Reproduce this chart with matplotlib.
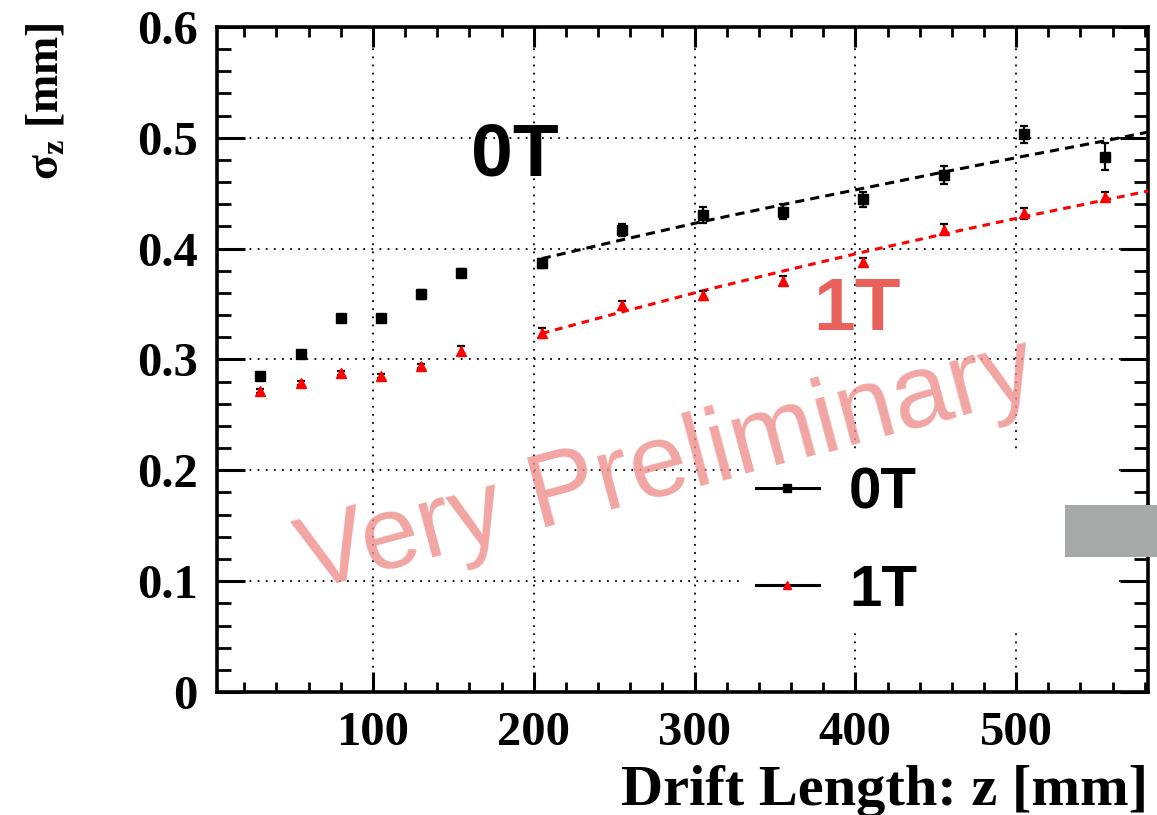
import matplotlib
matplotlib.use("Agg")
import matplotlib.pyplot as plt
from matplotlib.lines import Line2D
from matplotlib.patches import Rectangle
from matplotlib.ticker import MultipleLocator

# ---------------- data ----------------
z = [30, 55, 80, 105, 130, 155, 205, 255, 305, 355, 405, 455, 505, 555]
sigma_0T = [0.285, 0.305, 0.3375, 0.3375, 0.359, 0.378, 0.387, 0.417, 0.4305,
            0.4335, 0.4445, 0.4663, 0.5033, 0.4831]
err_0T = [0.003, 0.003, 0.003, 0.003, 0.004, 0.004, 0.004, 0.0057, 0.007,
          0.007, 0.0068, 0.008, 0.0077, 0.012]
sigma_1T = [0.2717, 0.279, 0.288, 0.285, 0.294, 0.3078, 0.324, 0.349, 0.358,
            0.371, 0.388, 0.417, 0.432, 0.447]
err_1T = [0.002, 0.002, 0.002, 0.002, 0.002, 0.004, 0.004, 0.004, 0.004,
          0.004, 0.004, 0.005, 0.005, 0.004]

# fit curves
fit_z = [205, 255, 305, 355, 405, 455, 505, 555, 583]
fit_0T = [0.391, 0.408, 0.4245, 0.4398, 0.4545, 0.4692, 0.4835, 0.4972, 0.5055]
fit_1T = [0.3235, 0.343, 0.362, 0.3798, 0.397, 0.4132, 0.4289, 0.4438, 0.4523]

x_ticks = [100, 200, 300, 400, 500]
y_ticks = [0, 0.1, 0.2, 0.3, 0.4, 0.5, 0.6]
legend_labels = ["0T", "1T"]

# ---------------- figure ----------------
W, H = 1157, 815
fig = plt.figure(figsize=(W / 100, H / 100), dpi=100)
L, R, T, B = 217, 1148, 27, 692
ax = fig.add_axes([L / W, 1 - B / H, (R - L) / W, (B - T) / H])

serif = ["Liberation Serif", "DejaVu Serif"]
plt.rcParams["mathtext.fontset"] = "custom"
plt.rcParams["mathtext.rm"] = "Liberation Serif"
plt.rcParams["mathtext.bf"] = "Liberation Serif:bold"
plt.rcParams["mathtext.it"] = "Liberation Serif:italic"

ax.grid(True, which="major", color="black", linestyle=(0, (1, 3.5)), linewidth=1.3)
ax.set_axisbelow(True)

ax.plot(fit_z, fit_0T, color="black", linestyle=(0, (3, 2)), linewidth=2.2, zorder=3)
ax.plot(fit_z, fit_1T, color="red", linestyle=(0, (2.5, 2)), linewidth=2.2, zorder=3)

ax.errorbar(z, sigma_0T, yerr=err_0T, fmt="s", color="black", ecolor="black",
            markersize=7, elinewidth=1.6, capsize=3, capthick=1.6, zorder=4)
ax.errorbar(z, sigma_1T, yerr=err_1T, fmt="^", color="red", ecolor="black",
            markersize=6.5, elinewidth=1.6, capsize=3, capthick=1.6, zorder=4)

ax.set_xlim(3, 582)
ax.set_ylim(0, 0.6)
ax.set_xticks(x_ticks)
ax.set_xticklabels([str(v) for v in x_ticks])
ax.set_yticks(y_ticks)
ax.set_yticklabels(["0"] + [f"{v:.1f}" for v in y_ticks[1:]])
ax.xaxis.set_minor_locator(MultipleLocator(20))
ax.yaxis.set_minor_locator(MultipleLocator(0.02))

ax.tick_params(axis="x", which="major", direction="in", length=14.5, width=2.2,
               top=True, bottom=True, pad=14)
ax.tick_params(axis="x", which="minor", direction="in", length=7.5, width=2.0,
               top=True, bottom=True)
ax.tick_params(axis="y", which="major", direction="in", length=20, width=2.2,
               left=True, right=True, pad=14)
ax.tick_params(axis="y", which="minor", direction="in", length=10, width=2.0,
               left=True, right=True)
for lab in ax.get_xticklabels() + ax.get_yticklabels():
    lab.set_fontfamily(serif)
    lab.set_fontweight("bold")
    lab.set_fontsize(35)
for s in ax.spines.values():
    s.set_linewidth(2.6)

# legend (white box without border, hides the grid behind it)
handles = [
    Line2D([], [], color="black", marker="s", markersize=6, markerfacecolor="black",
           linewidth=2.2),
    Line2D([], [], color="black", marker="^", markersize=6, markerfacecolor="red",
           markeredgecolor="red", linewidth=2.2),
]
lx0 = (741 - L) / (R - L)
ly1 = 1 - (452 - T) / (B - T)
lw = (1114 - 741) / (R - L)
leg = ax.legend(handles, legend_labels, loc="upper left", mode="expand",
                bbox_to_anchor=(lx0, ly1 - 0.3, lw, 0.3),
                frameon=True, fancybox=False, edgecolor="none", facecolor="white",
                framealpha=1, borderaxespad=0, borderpad=0.25,
                handlelength=1.08, handletextpad=0.52, labelspacing=0.74,
                prop={"family": ["Liberation Sans", "DejaVu Sans"],
                      "weight": "bold", "size": 42})
leg.set_zorder(5)

# axis titles
fig.text(R / W, 1 - 805 / H, "Drift Length: z [mm]", ha="right", va="baseline",
         fontsize=42, fontweight="bold", family=serif)
fig.text(47 / W, 1 - 22 / H, r"σ$_{\mathbf{z}}$ [mm]", rotation=90,
         ha="center", va="top", fontsize=33, fontweight="bold", family=serif)

# annotations
sans = ["Liberation Sans", "DejaVu Sans"]
fig.text(471 / W, 1 - 175 / H, "0T", ha="left", va="baseline", fontsize=54,
         family=sans, fontweight="bold", color="black", zorder=6)
fig.text(813 / W, 1 - 330 / H, "1T", ha="left", va="baseline", fontsize=54,
         family=sans, fontweight="bold", color="#e8615b", zorder=6)

# watermark
fig.text(675 / W, 1 - 493 / H, "Very Preliminary", rotation=15,
         rotation_mode="anchor", ha="center", va="baseline", fontsize=75,
         family=sans, fontweight="normal",
         color="#ee8f8c", alpha=0.8, zorder=7)

# grey box
fig.add_artist(Rectangle((1065 / W, 1 - 557 / H), (W - 1065) / W, 52 / H,
                         transform=fig.transFigure, facecolor="#a6a9a7",
                         edgecolor="none", zorder=8))

fig.savefig("out.png", dpi=100)
